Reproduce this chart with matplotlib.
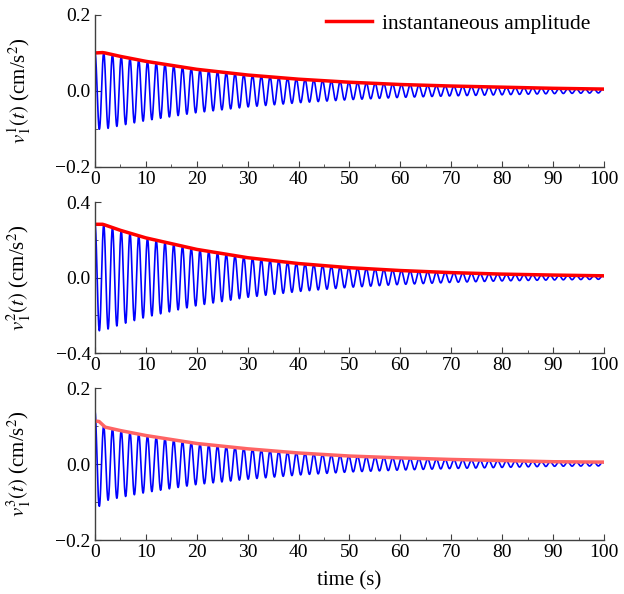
import numpy as np
import matplotlib.pyplot as plt

plt.rcParams['font.family'] = ['Liberation Serif', 'DejaVu Serif']
plt.rcParams['mathtext.fontset'] = 'stix'
plt.rcParams['font.size'] = 14

# envelope (instantaneous amplitude), cm/s^2
env_t = [0, 1.5, 2, 5, 10, 20, 30, 40, 50, 60, 70, 80, 90, 100]
amp1 = [0.100, 0.101, 0.100, 0.091, 0.078, 0.057, 0.042, 0.031, 0.023, 0.017, 0.013, 0.010, 0.007, 0.005]
amp2 = [0.282, 0.282, 0.278, 0.250, 0.210, 0.149, 0.105, 0.074, 0.052, 0.037, 0.026, 0.018, 0.013, 0.009]
amp3_t = [0, 0.8, 2, 5, 10, 20, 30, 40, 50, 60, 70, 80, 90, 100]
amp3 = [0.113, 0.112, 0.097, 0.088, 0.075, 0.054, 0.040, 0.029, 0.021, 0.016, 0.012, 0.009, 0.006, 0.005]
# blue signal peak envelope of record 3 (starts above the red curve)
peak3 = [0.140, 0.112, 0.097, 0.088, 0.075, 0.054, 0.040, 0.029, 0.021, 0.016, 0.012, 0.009, 0.006, 0.005]
period = 1.72  # s, read from peak spacing

ylims = [0.2, 0.4, 0.2]
ylabels = [r'$v_1^1(t)$ (cm/s$^2$)', r'$v_1^2(t)$ (cm/s$^2$)', r'$v_1^3(t)$ (cm/s$^2$)']

t = np.linspace(0, 100, 6000)
carrier = np.cos(2 * np.pi * t / period)
sig = [np.interp(t, env_t, amp1) * carrier,
       np.interp(t, env_t, amp2) * carrier,
       np.interp(t, amp3_t, peak3) * carrier]
envs = [(env_t, amp1, '#ff0000'), (env_t, amp2, '#ff0000'), (amp3_t, amp3, '#ff6464')]


def fmt(v, pos):
    return ('%.1f' % v).replace('-', '\u2212')


fig = plt.figure(figsize=(6.24, 5.94), dpi=100)
bottoms = [0.7189, 0.4057, 0.0909]
heights = [0.2559, 0.2542, 0.2559]

for i in range(3):
    ax = fig.add_axes([0.1522, bottoms[i], 0.8157, heights[i]])
    ax.plot(t, sig[i], color='#0000ff', lw=1.2)
    et, ev, col = envs[i]
    ln, = ax.plot(et, ev, color=col, lw=2.5, label='instantaneous amplitude')
    ax.set_xlim(0, 100)
    ax.set_ylim(-ylims[i], ylims[i])
    ax.set_yticks([-ylims[i], 0, ylims[i]])
    ax.set_yticks([-ylims[i] / 2, ylims[i] / 2], minor=True)
    ax.set_xticks(np.arange(0, 101, 10))
    ax.set_xticks(np.arange(5, 100, 10), minor=True)
    ax.yaxis.set_major_formatter(plt.FuncFormatter(fmt))
    ax.spines['top'].set_visible(False)
    ax.spines['right'].set_visible(False)
    for s in ['left', 'bottom']:
        ax.spines[s].set_color('#404040')
        ax.spines[s].set_linewidth(1.0)
    ax.tick_params(which='both', direction='in', colors='#404040', labelcolor='black')
    ax.tick_params(which='major', length=4, pad=3)
    ax.tick_params(which='minor', length=2)
    ax.set_ylabel(ylabels[i], fontsize=15)
    ax.yaxis.set_label_coords(-0.122, 0.5)
    if i == 0:
        ax.legend(handles=[ln], loc='upper right', frameon=False, fontsize=15.5,
                  handlelength=2.1, handletextpad=0.5, borderaxespad=0.0,
                  bbox_to_anchor=(0.991, 1.065))
    if i == 2:
        ax.set_xlabel('time (s)', fontsize=15, labelpad=7)

plt.savefig('out.png', dpi=100)
